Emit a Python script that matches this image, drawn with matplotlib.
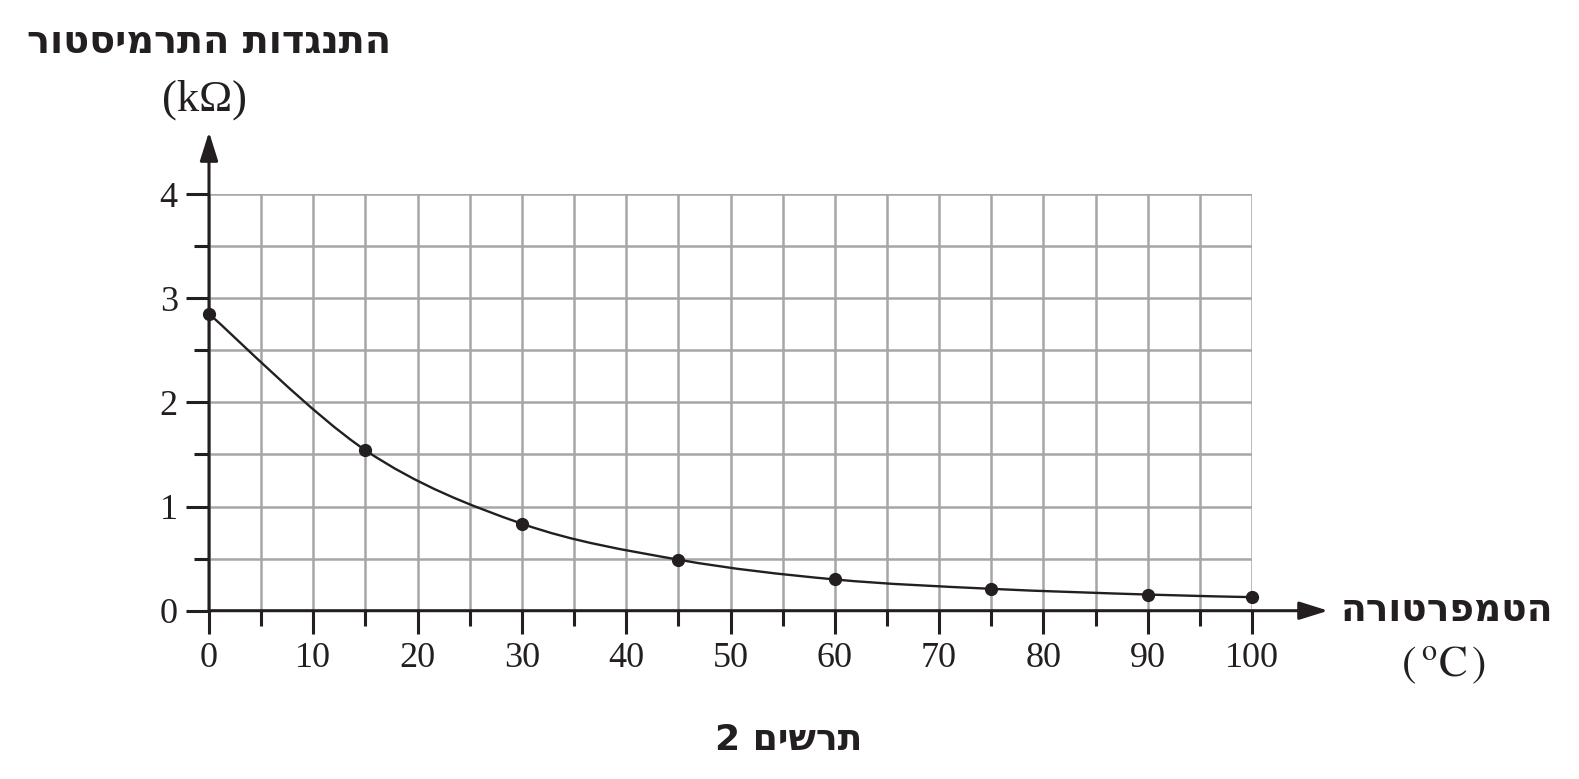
import matplotlib
matplotlib.use("Agg")
import matplotlib.pyplot as plt
from matplotlib.path import Path
from matplotlib.patches import PathPatch

# data
temps = [0, 15, 30, 45, 60, 75, 90, 100]
resist = [2.85, 1.54, 0.835, 0.49, 0.30, 0.21, 0.155, 0.13]

x_ticks = [0, 10, 20, 30, 40, 50, 60, 70, 80, 90, 100]
x_minor = [5, 15, 25, 35, 45, 55, 65, 75, 85, 95]
y_ticks = [0, 1, 2, 3, 4]
y_minor = [0.5, 1.5, 2.5, 3.5]

y_title = "התנגדות התרמיסטור"
x_title = "הטמפרטורה"
fig_title = "תרשים 2"


def rtl(s):
    # matplotlib lays text out left to right, so flip hebrew words
    return s[::-1]


def smooth_path(xs, ys):
    # catmull-rom through the points, drawn as cubic bezier segments
    verts = [(xs[0], ys[0])]
    codes = [Path.MOVETO]
    n = len(xs)
    for i in range(n - 1):
        x0, y0 = (xs[i - 1], ys[i - 1]) if i > 0 else (xs[i], ys[i])
        x1, y1 = xs[i], ys[i]
        x2, y2 = xs[i + 1], ys[i + 1]
        x3, y3 = (xs[i + 2], ys[i + 2]) if i + 2 < n else (x2, y2)
        c1 = (x1 + (x2 - x0) / 6.0, y1 + (y2 - y0) / 6.0)
        c2 = (x2 - (x3 - x1) / 6.0, y2 - (y3 - y1) / 6.0)
        verts += [c1, c2, (x2, y2)]
        codes += [Path.CURVE4] * 3
    return Path(verts, codes)


plt.rcParams["font.family"] = ["Liberation Serif", "DejaVu Sans"]
plt.rcParams["mathtext.fontset"] = "stix"

fig = plt.figure(figsize=(15.79, 7.79), dpi=100)
ax = fig.add_axes([209 / 1579, 168.3 / 779, 1043 / 1579, 416.7 / 779])
ax.set_xlim(0, 100)
ax.set_ylim(0, 4)

for s in ax.spines.values():
    s.set_visible(False)

ax.set_xticks(x_ticks)
ax.set_xticks(x_minor, minor=True)
ax.set_yticks(y_ticks)
ax.set_yticks(y_minor, minor=True)
ax.tick_params(which="major", direction="out", length=16.5, width=2.2,
               labelsize=26, pad=6, color="#231f20", labelcolor="#231f20")
ax.tick_params(which="minor", direction="out", length=10.5, width=2.2,
               color="#231f20")
ax.tick_params(axis="x", which="both", top=False)
ax.tick_params(axis="y", which="both", right=False)

ax.grid(True, which="both", color="#a6a6a6", linewidth=1.8, zorder=0)
ax.set_axisbelow(True)

# axis lines with arrow heads
arrow = dict(arrowstyle="-|>,head_length=0.7,head_width=0.22",
             mutation_scale=25, lw=2.2, color="#231f20", shrinkA=0, shrinkB=0)
ax.annotate("", xy=(1.073, 0), xytext=(0, 0), xycoords="axes fraction",
            arrowprops=arrow, annotation_clip=False, zorder=5)
ax.annotate("", xy=(0, 1.149), xytext=(0, 0), xycoords="axes fraction",
            arrowprops=arrow, annotation_clip=False, zorder=5)

ax.add_patch(PathPatch(smooth_path(temps, resist), facecolor="none",
                       edgecolor="#231f20", lw=1.7, zorder=6, clip_on=False))
ax.plot(temps, resist, "o", color="#231f20", markersize=8.5, zorder=7,
        clip_on=False)

heb = ["DejaVu Sans"]
fig.text(209 / 1579, 1 - 43 / 779, rtl(y_title), family=heb, weight="bold",
         fontsize=27.5, ha="center", va="center", color="#231f20")
fig.text(204 / 1579, 1 - 100 / 779, "(kΩ)", fontsize=32, ha="center",
         va="center", color="#231f20")
fig.text(1447 / 1579, 1 - 611 / 779, rtl(x_title), family=heb, weight="bold",
         fontsize=27, ha="center", va="center", color="#231f20")
fig.text(1444 / 1579, 1 - 665 / 779, r"$(\,^{\mathrm{o}}\mathrm{C}\,)$",
         fontsize=31, ha="center", va="center", color="#231f20")
fig.text(789 / 1579, 1 - 740 / 779, rtl(fig_title), family=heb, weight="bold",
         fontsize=26, ha="center", va="center", color="#231f20")

fig.savefig("out.png", dpi=100)
